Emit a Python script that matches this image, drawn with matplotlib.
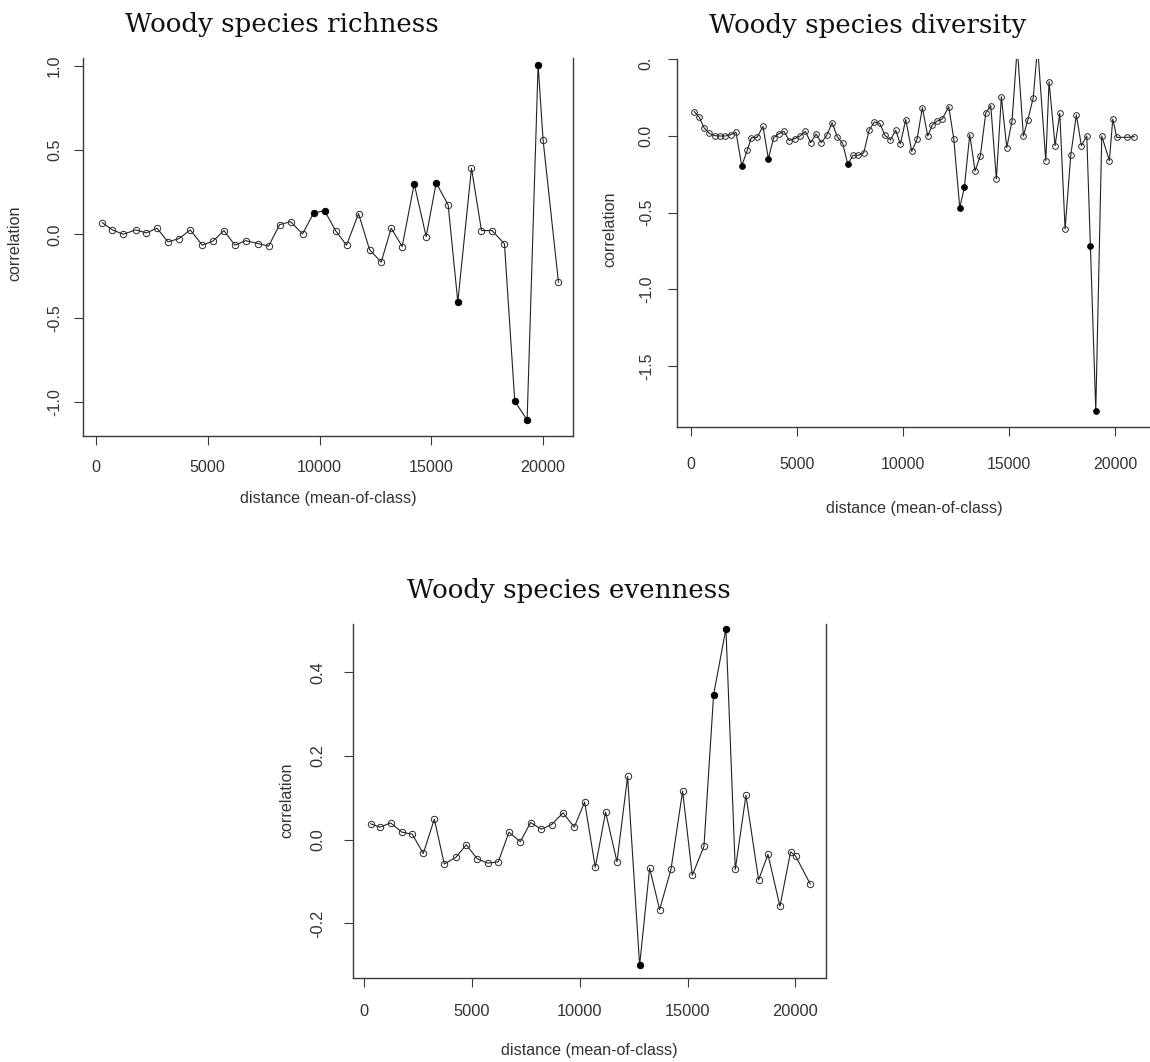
import matplotlib
matplotlib.use("Agg")
import matplotlib.pyplot as plt
from matplotlib.patches import Rectangle

plt.rcParams['font.family'] = ['Liberation Sans', 'DejaVu Sans']
plt.rcParams['axes.unicode_minus'] = False

# ---------------- data ----------------
richness_dist = [283, 730, 1222, 1773, 2250, 2727, 3218, 3710, 4217, 4753, 5230, 5722,
                 6213, 6690, 7241, 7718, 8210, 8702, 9238, 9730, 10221, 10713, 11205,
                 11741, 12232, 12754, 13201, 13693, 14230, 14766, 15213, 15749, 16181,
                 16792, 17239, 17716, 18267, 18729, 19281, 19772, 19996, 20681]
richness_corr = [0.069, 0.026, 0.0, 0.026, 0.008, 0.036, -0.045, -0.026, 0.026, -0.065,
                 -0.041, 0.022, -0.065, -0.038, -0.055, -0.071, 0.057, 0.075, 0.002,
                 0.126, 0.140, 0.022, -0.065, 0.123, -0.091, -0.166, 0.036, -0.073,
                 0.300, -0.014, 0.306, 0.174, -0.403, 0.393, 0.022, 0.022, -0.057,
                 -0.994, -1.105, 1.010, 0.559, -0.285]
richness_signif = [19, 20, 28, 30, 32, 37, 38, 39]

diversity_dist = [146, 382, 604, 855, 1110, 1360, 1610, 1865, 2115,
                  2384, 2649, 2838, 3107, 3390, 3640, 3895, 4131, 4381, 4632, 4887,
                  5137, 5387, 5642, 5892, 6143, 6398, 6648, 6898, 7153, 7389,
                  7639, 7890, 8144, 8395, 8645, 8900, 9150, 9400, 9655, 9873,
                  10127, 10411, 10661, 10911, 11166, 11383, 11619, 11856, 12158, 12394,
                  12677, 12894, 13149, 13399, 13650, 13905, 14141, 14405, 14641, 14896,
                  15146, 15392, 15680, 15888, 16147, 16350, 16738, 16893, 17177, 17399,
                  17649, 17918, 18182, 18418, 18673, 18843, 19098, 19381, 19740, 19901,
                  20090, 20562, 20921]
diversity_corr = [0.159, 0.122, 0.054, 0.017, 0.002, 0.0, 0.0, 0.009, 0.024,
                  -0.194, -0.093, -0.011, -0.009, 0.063, -0.148, -0.011, 0.015, 0.030, -0.030, -0.017,
                  0.0, 0.030, -0.043, 0.013, -0.043, 0.004, 0.087, -0.006, -0.048, -0.185,
                  -0.126, -0.126, -0.111, 0.037, 0.091, 0.083, 0.004, -0.026, 0.037, -0.052,
                  0.107, -0.100, -0.022, 0.185, 0.0, 0.074, 0.098, 0.112, 0.191, -0.017,
                  -0.468, -0.335, 0.009, -0.228, -0.128, 0.150, 0.198, -0.280, 0.256, -0.076,
                  0.100, 0.580, 0.0, 0.104, 0.250, 0.584, -0.161, 0.354, -0.063, 0.148,
                  -0.607, -0.124, 0.137, -0.063, 0.0, -0.715, -1.794, 0.0, -0.161, 0.111,
                  -0.009, -0.009, -0.004]
diversity_signif = [9, 14, 29, 50, 51, 75, 76]

evenness_dist = [294, 727, 1221, 1747, 2226, 2736, 3247, 3710, 4252, 4731, 5225, 5720,
                 6215, 6710, 7235, 7714, 8209, 8688, 9214, 9740, 10219, 10714, 11193,
                 11719, 12213, 12770, 13234, 13698, 14224, 14764, 15213, 15754, 16202,
                 16774, 17207, 17702, 18289, 18722, 19279, 19773, 20005, 20685]
evenness_corr = [0.038, 0.030, 0.040, 0.018, 0.013, -0.033, 0.049, -0.058, -0.042, -0.012,
                 -0.045, -0.056, -0.053, 0.018, -0.005, 0.041, 0.025, 0.036, 0.064, 0.030,
                 0.090, -0.066, 0.066, -0.053, 0.151, -0.300, -0.068, -0.167, -0.071,
                 0.116, -0.085, -0.016, 0.346, 0.504, -0.071, 0.106, -0.096, -0.035,
                 -0.159, -0.029, -0.039, -0.106]
evenness_signif = [25, 32, 33]

titles = ["Woody species richness", "Woody species diversity", "Woody species evenness"]
x_ticks = [0, 5000, 10000, 15000, 20000]
x_ticklabels = ["0", "5000", "10000", "15000", "20000"]
richness_yticks = [-1.0, -0.5, 0.0, 0.5, 1.0]
richness_yticklabels = ["-1.0", "-0.5", "0.0", "0.5", "1.0"]
diversity_yticks = [-1.5, -1.0, -0.5, 0.0, 0.5]
diversity_yticklabels = ["-1.5", "-1.0", "-0.5", "0.0", "0.5"]
evenness_yticks = [-0.2, 0.0, 0.2, 0.4]
evenness_yticklabels = ["-0.2", "0.0", "0.2", "0.4"]
xlabel_text = "distance (mean-of-class)"
ylabel_text = "correlation"

# ---------------- layout ----------------
W, H = 1150, 1062
fig = plt.figure(figsize=(W / 100, H / 100), dpi=100, facecolor='white')


def px_rect(l, t, r, b):
    return [l / W, 1 - b / H, (r - l) / W, (b - t) / H]


def fx(x):
    return x / W


def fy(y):
    return 1 - y / H


SPINE = '#3a3a3a'
LINE = '#222222'
TXT = '#333333'


def panel(rect, xs, ys, signif, xlim, ylim, yticks, yticklabels,
          right_spine, xpad, ypad, fs, ms, clip_top):
    ax = fig.add_axes(px_rect(*rect))
    ax.plot(xs, ys, '-', color=LINE, lw=0.8, zorder=2)
    open_x = [x for i, x in enumerate(xs) if i not in signif]
    open_y = [y for i, y in enumerate(ys) if i not in signif]
    fill_x = [xs[i] for i in signif]
    fill_y = [ys[i] for i in signif]
    ax.plot(open_x, open_y, 'o', ls='none', ms=ms, mfc='none', mec='#2a2a2a',
            mew=0.7, zorder=3)
    ax.plot(fill_x, fill_y, 'o', ls='none', ms=ms, mfc='black', mec='black',
            mew=0.7, zorder=4)
    ax.set_xlim(*xlim)
    ax.set_ylim(*ylim)
    ax.set_xticks(x_ticks)
    ax.set_xticklabels(x_ticklabels)
    ax.set_yticks(yticks)
    ax.set_yticklabels(yticklabels)
    ax.spines['top'].set_visible(False)
    ax.spines['right'].set_visible(right_spine)
    for s in ax.spines.values():
        s.set_color(SPINE)
        s.set_linewidth(1.0)
    ax.tick_params(axis='both', direction='out', length=6.5, width=0.8,
                   color=SPINE, labelcolor=TXT, labelsize=fs)
    ax.tick_params(axis='x', pad=xpad)
    ax.tick_params(axis='y', pad=ypad, labelrotation=90)
    clip = Rectangle((0, 0), 1, fy(clip_top), transform=fig.transFigure,
                     facecolor='none', edgecolor='none')
    for lab in ax.get_yticklabels():
        lab.set_verticalalignment('center')
        lab.set_clip_on(True)
        lab.set_clip_path(clip)
    ax.patch.set_visible(False)
    return ax


# top-left: richness
panel((83.3, 58, 573.3, 436), richness_dist, richness_corr, richness_signif,
      (-568, 21346), (-1.2006, 1.049), richness_yticks, richness_yticklabels,
      True, 10.5, 8.9, 11.6, 4.6, 58)
# top-right: diversity
panel((676.7, 58.6, 1152, 426.7), diversity_dist, diversity_corr, diversity_signif,
      (-685, 21752), (-1.8963, 0.505), diversity_yticks, diversity_yticklabels,
      False, 15.5, 10, 11.4, 4.1, 58.6)
# bottom: evenness
panel((352.7, 624, 826, 978.3), evenness_dist, evenness_corr, evenness_signif,
      (-538, 21415), (-0.331, 0.515), evenness_yticks, evenness_yticklabels,
      True, 12, 13.5, 11.8, 4.6, 624)

# titles
title_font = dict(family='DejaVu Serif', fontsize=18.8, color='#111111',
                  ha='center', va='baseline')
fig.text(fx(281.5), fy(32.3), titles[0], **title_font)
fig.text(fx(868), fy(33.3), titles[1], **title_font)
fig.text(fx(569.2), fy(597.7), titles[2], **title_font)

# axis labels
lab_font = dict(fontsize=11.6, color=TXT, ha='center', va='center')
fig.text(fx(328.3), fy(499), xlabel_text, **lab_font)
fig.text(fx(914), fy(509), xlabel_text, **lab_font)
fig.text(fx(589.3), fy(1051), xlabel_text, **lab_font)
fig.text(fx(15), fy(243), ylabel_text, rotation=90, **lab_font)
fig.text(fx(610), fy(229), ylabel_text, rotation=90, **lab_font)
fig.text(fx(287), fy(800), ylabel_text, rotation=90, **lab_font)

fig.savefig('out.png', dpi=100, facecolor='white')
